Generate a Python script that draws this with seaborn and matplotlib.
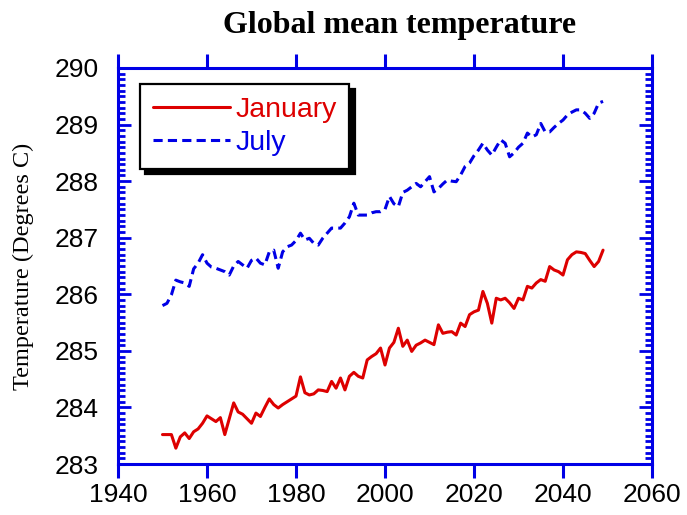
import matplotlib
matplotlib.use("Agg")
import matplotlib.pyplot as plt
from matplotlib.ticker import MultipleLocator
import numpy as np
import pandas as pd
import seaborn as sns

# Annual global mean temperatures for 1950-2049
years = list(range(1950, 2050))

january = [
    283.52, 283.52, 283.52, 283.28, 283.48, 283.55, 283.45, 283.57, 283.62, 283.72,
    283.85, 283.80, 283.75, 283.82, 283.52, 283.80, 284.08, 283.92, 283.88, 283.80,
    283.72, 283.90, 283.84, 284.00, 284.15, 284.05, 283.99, 284.05, 284.10, 284.15,
    284.20, 284.54, 284.26, 284.22, 284.24, 284.31, 284.30, 284.28, 284.46, 284.34,
    284.52, 284.31, 284.55, 284.62, 284.55, 284.52, 284.84, 284.90, 284.95, 285.05,
    284.75, 285.05, 285.15, 285.40, 285.08, 285.19, 284.99, 285.10, 285.14, 285.19,
    285.15, 285.11, 285.46, 285.31, 285.33, 285.34, 285.28, 285.49, 285.43, 285.64,
    285.69, 285.72, 286.05, 285.84, 285.49, 285.93, 285.90, 285.93, 285.85, 285.75,
    285.93, 285.90, 286.14, 286.11, 286.20, 286.26, 286.23, 286.49, 286.43, 286.40,
    286.34, 286.61, 286.70, 286.75, 286.74, 286.72, 286.60, 286.49, 286.58, 286.78,
]

july = [
    285.80, 285.84, 285.99, 286.25, 286.22, 286.20, 286.14, 286.45, 286.55, 286.70,
    286.55, 286.48, 286.46, 286.43, 286.40, 286.34, 286.50, 286.58, 286.52, 286.46,
    286.60, 286.64, 286.55, 286.52, 286.75, 286.78, 286.46, 286.75, 286.84, 286.87,
    286.95, 287.08, 286.96, 286.99, 286.90, 286.87, 286.99, 287.08, 287.17, 287.17,
    287.17, 287.26, 287.37, 287.61, 287.40, 287.40, 287.40, 287.44, 287.46, 287.46,
    287.50, 287.73, 287.60, 287.55, 287.80, 287.84, 287.90, 287.96, 287.90, 287.99,
    288.08, 287.81, 287.87, 287.95, 288.02, 288.00, 287.99, 288.11, 288.26, 288.32,
    288.45, 288.55, 288.67, 288.55, 288.46, 288.60, 288.73, 288.67, 288.43, 288.50,
    288.60, 288.67, 288.85, 288.78, 288.82, 289.02, 288.87, 288.87, 288.95, 289.02,
    289.08, 289.17, 289.22, 289.26, 289.26, 289.20, 289.11, 289.20, 289.38, 289.41,
]

months = ["January", "July"]
x_ticks = [1940, 1960, 1980, 2000, 2020, 2040, 2060]
y_ticks = [283, 284, 285, 286, 287, 288, 289, 290]

RED = "#dd0000"
BLUE = "#0000e6"

df = pd.DataFrame({
    "Year": years * 2,
    "Temperature": january + july,
    "Month": [months[0]] * len(years) + [months[1]] * len(years),
})

sns.set_style("white")
plt.rcParams["font.family"] = ["Liberation Sans", "DejaVu Sans"]

fig = plt.figure(figsize=(6.87, 5.15), dpi=100)
ax = fig.add_axes([118 / 687, 1 - 464 / 515, 534 / 687, 396 / 515])

sns.lineplot(
    data=df, x="Year", y="Temperature", hue="Month", style="Month",
    palette={"January": RED, "July": BLUE},
    dashes={"January": "", "July": (3, 1.7)},
    linewidth=2.2, ax=ax, legend=False,
)

ax.set_xlim(1940, 2060)
ax.set_ylim(283, 290)
ax.set_xticks(x_ticks)
ax.set_yticks(y_ticks)
ax.yaxis.set_minor_locator(MultipleLocator(0.1))
ax.set_xlabel("")

for sp in ax.spines.values():
    sp.set_visible(True)
    sp.set_color(BLUE)
    sp.set_linewidth(2.2)

ax.tick_params(axis="x", which="major", direction="out", top=True, bottom=True,
               length=10, width=2.2, color=BLUE, labelsize=19, pad=4,
               labelcolor="black")
ax.tick_params(axis="y", which="major", direction="in", left=True, right=True,
               length=9.5, width=2.0, color=BLUE, labelsize=19, pad=14,
               labelcolor="black")
ax.tick_params(axis="y", which="minor", direction="in", left=True, right=True,
               length=5, width=2.0, color=BLUE)

ax.set_ylabel("Temperature (Degrees C)", fontfamily="Liberation Serif",
              fontsize=17.5, color="black")
ax.yaxis.set_label_coords(-0.158, 0.5)

fig.text(400 / 687, 1 - 25 / 515, "Global mean temperature",
         ha="center", va="center", fontfamily="Liberation Serif",
         fontweight="bold", fontsize=23, color="black")

lines = ax.get_lines()[:2]
leg = ax.legend(
    lines, months, loc="upper left", bbox_to_anchor=(0.041, 0.96),
    borderaxespad=0, fontsize=20.5, labelcolor="linecolor",
    handlelength=2.7, handletextpad=0.2, labelspacing=0.25,
    borderpad=0.45, fancybox=False, framealpha=1,
    edgecolor="black",
    shadow={"ox": 4.0, "oy": -4.0, "color": "black", "alpha": 1},
)
leg.get_frame().set_linewidth(1.6)

fig.savefig("out.png", dpi=100)
